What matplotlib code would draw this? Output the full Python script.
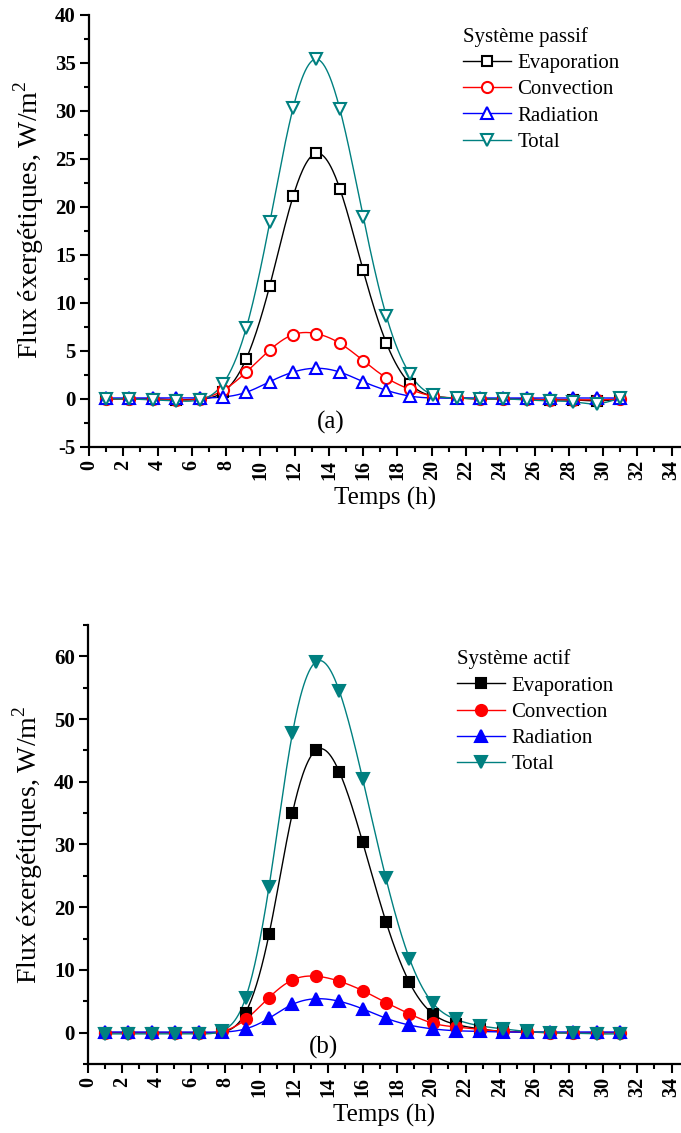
import numpy as np
import matplotlib
matplotlib.use("Agg")
import matplotlib.pyplot as plt
from matplotlib.ticker import MultipleLocator

plt.rcParams['font.family'] = ['Liberation Serif', 'DejaVu Serif']
plt.rcParams['mathtext.fontset'] = 'custom'
plt.rcParams['mathtext.rm'] = 'Liberation Serif'
plt.rcParams['axes.unicode_minus'] = False

temps = [1.0, 2.36, 3.73, 5.09, 6.45, 7.82, 9.18, 10.55, 11.91, 13.27, 14.64, 16.0,
         17.36, 18.73, 20.09, 21.45, 22.82, 24.18, 25.55, 26.91, 28.27, 29.64, 31.0]

# systeme passif
evap_p = [0.0, 0.0, 0.0, -0.1, 0.0, 0.7, 4.2, 11.8, 21.1, 25.6, 21.9, 13.4,
          5.8, 1.6, 0.3, 0.1, 0.0, 0.0, 0.0, -0.1, -0.1, -0.2, 0.0]
conv_p = [0.0, 0.0, 0.0, -0.1, 0.0, 0.9, 2.8, 5.1, 6.7, 6.8, 5.8, 4.0,
          2.2, 1.0, 0.3, 0.1, 0.0, 0.0, 0.0, -0.1, -0.1, -0.1, 0.0]
rad_p = [0.1, 0.1, 0.1, 0.1, 0.1, 0.2, 0.7, 1.8, 2.8, 3.2, 2.8, 1.8,
         0.9, 0.3, 0.1, 0.1, 0.1, 0.1, 0.1, 0.1, 0.1, 0.1, 0.1]
tot_p = [0.0, 0.0, -0.1, -0.2, -0.1, 1.6, 7.4, 18.4, 30.3, 35.4, 30.2, 19.0,
         8.6, 2.6, 0.4, 0.1, 0.0, 0.0, -0.1, -0.2, -0.3, -0.5, 0.1]

# systeme actif
evap_a = [0.0, 0.0, 0.0, 0.0, 0.0, 0.1, 3.2, 15.7, 35.0, 45.0, 41.6, 30.4,
          17.7, 8.0, 3.0, 1.3, 0.6, 0.2, 0.1, 0.0, 0.0, 0.0, 0.0]
conv_a = [0.0, 0.0, 0.0, 0.0, 0.0, 0.2, 2.1, 5.6, 8.4, 9.0, 8.2, 6.7,
          4.8, 3.0, 1.5, 0.9, 0.5, 0.2, 0.1, 0.0, 0.0, 0.0, 0.0]
rad_a = [0.1, 0.1, 0.1, 0.1, 0.1, 0.1, 0.6, 2.3, 4.5, 5.4, 5.0, 3.8,
         2.3, 1.2, 0.6, 0.3, 0.2, 0.1, 0.1, 0.1, 0.1, 0.1, 0.1]
tot_a = [-0.2, -0.2, -0.2, -0.2, -0.2, 0.3, 5.5, 23.3, 47.7, 59.1, 54.5, 40.5,
         24.6, 11.8, 4.7, 2.1, 1.1, 0.6, 0.2, 0.0, -0.1, -0.2, -0.2]

labels = ["Evaporation", "Convection", "Radiation", "Total"]
colors = ["black", "red", "blue", "#008080"]
markers = ["s", "o", "^", "v"]
msizes = [7, 8, 8.5, 8.5]


def spline(x, y, n=600):
    # natural cubic spline, only for drawing the smooth line
    x = np.asarray(x, float)
    y = np.asarray(y, float)
    h = np.diff(x)
    m = len(x)
    A = np.zeros((m, m))
    b = np.zeros(m)
    A[0, 0] = 1
    A[-1, -1] = 1
    for i in range(1, m - 1):
        A[i, i - 1] = h[i - 1]
        A[i, i] = 2 * (h[i - 1] + h[i])
        A[i, i + 1] = h[i]
        b[i] = 6 * ((y[i + 1] - y[i]) / h[i] - (y[i] - y[i - 1]) / h[i - 1])
    M = np.linalg.solve(A, b)
    xs = np.linspace(x[0], x[-1], n)
    k = np.clip(np.searchsorted(x, xs) - 1, 0, m - 2)
    t0 = x[k + 1] - xs
    t1 = xs - x[k]
    ys = (M[k] * t0 ** 3 + M[k + 1] * t1 ** 3) / (6 * h[k]) \
        + (y[k] / h[k] - M[k] * h[k] / 6) * t0 \
        + (y[k + 1] / h[k] - M[k + 1] * h[k] / 6) * t1
    return xs, ys


def draw(ax, series, filled, title, ylim, ymaj, ymin, tag, legpos, ylab_y):
    for vals, lab, c, mk, ms in zip(series, labels, colors, markers, msizes):
        xs, ys = spline(temps, vals)
        ax.plot(xs, ys, color=c, lw=1.0, zorder=2)
        ax.plot(temps, vals, ls='none', marker=mk, ms=ms, mew=1.5, color=c,
                mfc=c if filled else 'white', zorder=3)
        ax.plot([], [], color=c, lw=1.0, marker=mk, ms=ms, mew=1.5,
                mfc=c if filled else 'white', label=lab)

    ax.set_xlim(0, 34.55)
    ax.set_ylim(*ylim)
    ax.xaxis.set_major_locator(MultipleLocator(2))
    ax.xaxis.set_minor_locator(MultipleLocator(1))
    ax.yaxis.set_major_locator(MultipleLocator(ymaj))
    ax.yaxis.set_minor_locator(MultipleLocator(ymin))
    ax.spines['top'].set_visible(False)
    ax.spines['right'].set_visible(False)
    for s in ['left', 'bottom']:
        ax.spines[s].set_linewidth(1.6)
    ax.tick_params(which='major', direction='out', length=6.5, width=1.5, pad=3)
    ax.tick_params(which='minor', direction='out', length=3.5, width=1.5)
    ax.tick_params(axis='y', labelsize=15)
    ax.tick_params(axis='x', labelsize=14.5, labelrotation=90)
    for t in ax.get_xticklabels() + ax.get_yticklabels():
        t.set_fontweight('bold')

    ax.set_xlabel("Temps (h)", fontsize=18, labelpad=5)
    ax.set_ylabel("Flux éxergétiques, W/m$^2$", fontsize=20)
    ax.yaxis.set_label_coords(-0.072, ylab_y)
    ax.text(tag[0], tag[1], tag[2], fontsize=18, ha='center', va='center')

    leg = ax.legend(loc='upper left', bbox_to_anchor=legpos, frameon=False,
                    title=title, fontsize=15, title_fontsize=15, alignment='left',
                    handlelength=2.3, handletextpad=0.3, labelspacing=0.32,
                    borderpad=0, borderaxespad=0)
    return leg


fig = plt.figure(figsize=(6.81, 11.33), dpi=100)
ax1 = fig.add_axes([0.1307, 0.6055, 0.8693, 0.3813])
ax2 = fig.add_axes([0.1292, 0.0609, 0.8708, 0.3875])

draw(ax1, [evap_p, conv_p, rad_p, tot_p], False, "Système passif",
     (-5, 40), 5, 2.5, (14.1, -2.4, "(a)"), (0.632, 0.972), 0.525)
draw(ax2, [evap_a, conv_a, rad_a, tot_a], True, "Système actif",
     (-5, 65), 10, 5, (13.7, -2.4, "(b)"), (0.623, 0.944), 0.5)

fig.savefig("out.png", dpi=100)
